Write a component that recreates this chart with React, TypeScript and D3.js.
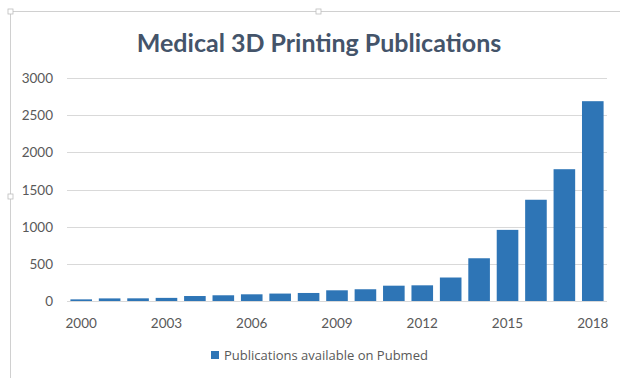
import React from "react";
import * as d3 from "d3";

const years = [2000, 2001, 2002, 2003, 2004, 2005, 2006, 2007, 2008, 2009, 2010, 2011, 2012, 2013, 2014, 2015, 2016, 2017, 2018];
const publications = [22, 35, 36, 42, 67, 77, 90, 100, 108, 144, 158, 206, 211, 316, 575, 957, 1362, 1773, 2688];
const yTicks = [0, 500, 1000, 1500, 2000, 2500, 3000];
const xLabelYears = [2000, 2003, 2006, 2009, 2012, 2015, 2018];
const title = "Medical 3D Printing Publications";
const seriesName = "Publications available on Pubmed";

const W = 620;
const H = 378;
const plot = { left: 67, right: 607, top: 78, bottom: 301 };
const font = "Lato, 'Open Sans', sans-serif";
const legendFont = "'Open Sans', Lato, sans-serif";

export default function App() {
  const x = d3
    .scaleBand<number>()
    .domain(years)
    .range([plot.left, plot.right])
    .paddingInner(0.24)
    .paddingOuter(0.12);
  const y = d3.scaleLinear().domain([0, 3000]).range([plot.bottom, plot.top]);

  return (
    <svg
      width={W}
      height={H}
      style={{ position: "absolute", left: 0, top: 0, background: "#fff" }}
    >
      <rect x={0} y={0} width={W} height={H} fill="#fff" />
      {/* chart frame */}
      <line x1={10.5} x2={W} y1={11.5} y2={11.5} stroke="#d0d0d0" />
      <line x1={10.5} x2={10.5} y1={11.5} y2={H} stroke="#d0d0d0" />
      <rect x={8} y={9} width={5} height={5} fill="#fff" stroke="#bdbdbd" strokeWidth={0.8} />
      <rect x={316} y={9} width={5} height={5} fill="#fff" stroke="#bdbdbd" strokeWidth={0.8} />
      <rect x={8} y={194} width={5} height={5} fill="#fff" stroke="#bdbdbd" strokeWidth={0.8} />

      <text
        x={319}
        y={52}
        textAnchor="middle"
        fontFamily={font}
        fontWeight={700}
        fontSize={25}
        fill="#44546A"
      >
        {title}
      </text>

      {yTicks.map((t) => (
        <g key={t}>
          <line
            x1={plot.left}
            x2={plot.right}
            y1={Math.round(y(t)) + 0.5}
            y2={Math.round(y(t)) + 0.5}
            stroke="#d9d9d9"
            strokeWidth={1}
          />
          <text
            x={53}
            y={y(t) + 5}
            textAnchor="end"
            fontFamily={font}
            fontSize={13.5}
            fill="#595959"
          >
            {t}
          </text>
        </g>
      ))}

      {years.map((yr, i) => (
        <rect
          key={yr}
          x={x(yr)}
          y={y(publications[i])}
          width={x.bandwidth()}
          height={plot.bottom - y(publications[i])}
          fill="#2E75B6"
        />
      ))}

      {xLabelYears.map((yr) => (
        <text
          key={yr}
          x={(x(yr) as number) + x.bandwidth() / 2}
          y={328}
          textAnchor="middle"
          fontFamily={font}
          fontSize={13.5}
          fill="#595959"
        >
          {yr}
        </text>
      ))}

      <rect x={211} y={351} width={8} height={8} fill="#2E75B6" />
      <text x={224} y={360} fontFamily={legendFont} fontSize={13} fill="#595959">
        {seriesName}
      </text>
    </svg>
  );
}
